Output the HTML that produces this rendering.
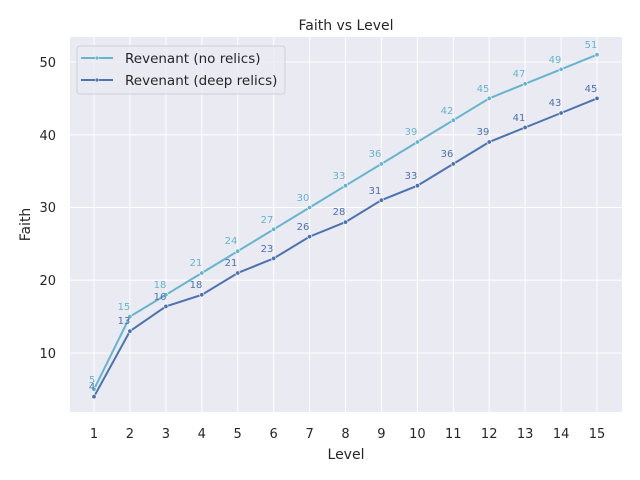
<!DOCTYPE html><html><head><style>body{margin:0;background:#fff}svg{display:block;font-family:"DejaVu Sans","Liberation Sans",sans-serif}</style></head><body>
<svg width="640" height="480" viewBox="0 0 640 480">
<rect x="70" y="37" width="552" height="375" fill="#eaeaf2"/>
<g stroke="#fff" stroke-width="1">
<line x1="70" x2="622" y1="62" y2="62"/><line x1="70" x2="622" y1="134.75" y2="134.75"/><line x1="70" x2="622" y1="207.5" y2="207.5"/><line x1="70" x2="622" y1="280.25" y2="280.25"/><line x1="70" x2="622" y1="353" y2="353"/>
<line x1="94" x2="94" y1="37" y2="412"/><line x1="129.9" x2="129.9" y1="37" y2="412"/><line x1="165.9" x2="165.9" y1="37" y2="412"/><line x1="201.8" x2="201.8" y1="37" y2="412"/><line x1="237.7" x2="237.7" y1="37" y2="412"/><line x1="273.7" x2="273.7" y1="37" y2="412"/><line x1="309.6" x2="309.6" y1="37" y2="412"/><line x1="345.5" x2="345.5" y1="37" y2="412"/><line x1="381.4" x2="381.4" y1="37" y2="412"/><line x1="417.4" x2="417.4" y1="37" y2="412"/><line x1="453.3" x2="453.3" y1="37" y2="412"/><line x1="489.2" x2="489.2" y1="37" y2="412"/><line x1="525.1" x2="525.1" y1="37" y2="412"/><line x1="561.1" x2="561.1" y1="37" y2="412"/><line x1="597" x2="597" y1="37" y2="412"/>
</g>
<polyline fill="none" stroke="#64b5cd" stroke-width="2" points="94,389.4 129.9,316.6 165.9,294.8 201.8,273 237.7,251.2 273.7,229.3 309.6,207.5 345.5,185.7 381.4,163.9 417.4,142 453.3,120.2 489.2,98.4 525.1,83.8 561.1,69.3 597,54.7"/>
<polyline fill="none" stroke="#4c72b0" stroke-width="2" points="94,396.7 129.9,331.2 165.9,306.4 201.8,294.8 237.7,273 273.7,258.4 309.6,236.6 345.5,222.1 381.4,200.2 417.4,185.7 453.3,163.9 489.2,142 525.1,127.5 561.1,113 597,98.4"/>
<g fill="#64b5cd" stroke="#fff" stroke-width="0.6">
<circle cx="94" cy="389.4" r="2.2"/><circle cx="129.9" cy="316.6" r="2.2"/><circle cx="165.9" cy="294.8" r="2.2"/><circle cx="201.8" cy="273" r="2.2"/><circle cx="237.7" cy="251.2" r="2.2"/><circle cx="273.7" cy="229.3" r="2.2"/><circle cx="309.6" cy="207.5" r="2.2"/><circle cx="345.5" cy="185.7" r="2.2"/><circle cx="381.4" cy="163.9" r="2.2"/><circle cx="417.4" cy="142" r="2.2"/><circle cx="453.3" cy="120.2" r="2.2"/><circle cx="489.2" cy="98.4" r="2.2"/><circle cx="525.1" cy="83.8" r="2.2"/><circle cx="561.1" cy="69.3" r="2.2"/><circle cx="597" cy="54.7" r="2.2"/>
</g>
<g fill="#4c72b0" stroke="#fff" stroke-width="0.6">
<circle cx="94" cy="396.7" r="2.2"/><circle cx="129.9" cy="331.2" r="2.2"/><circle cx="165.9" cy="306.4" r="2.2"/><circle cx="201.8" cy="294.8" r="2.2"/><circle cx="237.7" cy="273" r="2.2"/><circle cx="273.7" cy="258.4" r="2.2"/><circle cx="309.6" cy="236.6" r="2.2"/><circle cx="345.5" cy="222.1" r="2.2"/><circle cx="381.4" cy="200.2" r="2.2"/><circle cx="417.4" cy="185.7" r="2.2"/><circle cx="453.3" cy="163.9" r="2.2"/><circle cx="489.2" cy="142" r="2.2"/><circle cx="525.1" cy="127.5" r="2.2"/><circle cx="561.1" cy="113" r="2.2"/><circle cx="597" cy="98.4" r="2.2"/>
</g>
<g fill="#64b5cd" font-size="10" text-anchor="middle">
<text x="92" y="383">5</text><text x="124" y="310">15</text><text x="160" y="288">18</text><text x="196" y="266">21</text><text x="231" y="244">24</text><text x="267" y="223">27</text><text x="303" y="201">30</text><text x="339" y="179">33</text><text x="375" y="157">36</text><text x="411" y="135">39</text><text x="447" y="114">42</text><text x="483" y="92">45</text><text x="519" y="77">47</text><text x="555" y="63">49</text><text x="591" y="48">51</text>
</g>
<g fill="#4c72b0" font-size="10" text-anchor="middle">
<text x="92" y="390">4</text><text x="124" y="324">13</text><text x="160" y="300">16</text><text x="196" y="288">18</text><text x="231" y="266">21</text><text x="267" y="252">23</text><text x="303" y="230">26</text><text x="339" y="215">28</text><text x="375" y="194">31</text><text x="411" y="179">33</text><text x="447" y="157">36</text><text x="483" y="135">39</text><text x="519" y="121">41</text><text x="555" y="106">43</text><text x="591" y="92">45</text>
</g>
<rect x="77" y="46" width="208" height="48" rx="3" fill="#eaeaf2" fill-opacity="0.8" stroke="#d0d0d8"/>
<line x1="81" x2="113" y1="58" y2="58" stroke="#64b5cd" stroke-width="2"/><circle cx="97" cy="58" r="2" fill="#64b5cd" stroke="#fff" stroke-width="0.5"/>
<line x1="81" x2="113" y1="80" y2="80" stroke="#4c72b0" stroke-width="2"/><circle cx="97" cy="80" r="2" fill="#4c72b0" stroke="#fff" stroke-width="0.5"/>
<g fill="#262626" font-size="13.5"><text x="125" y="63">Revenant (no relics)</text><text x="125" y="85">Revenant (deep relics)</text></g>
<g fill="#262626" font-size="13" text-anchor="end">
<text x="56" y="67">50</text><text x="56" y="140">40</text><text x="56" y="212">30</text><text x="56" y="285">20</text><text x="56" y="358">10</text>
</g>
<g fill="#262626" font-size="13" text-anchor="middle">
<text x="94" y="438">1</text><text x="129.9" y="438">2</text><text x="165.9" y="438">3</text><text x="201.8" y="438">4</text><text x="237.7" y="438">5</text><text x="273.7" y="438">6</text><text x="309.6" y="438">7</text><text x="345.5" y="438">8</text><text x="381.4" y="438">9</text><text x="417.4" y="438">10</text><text x="453.3" y="438">11</text><text x="489.2" y="438">12</text><text x="525.1" y="438">13</text><text x="561.1" y="438">14</text><text x="597" y="438">15</text>
<text x="346" y="459" font-size="14">Level</text>
<text x="346" y="30" font-size="14">Faith vs Level</text>
</g>
<text transform="translate(30,224.5) rotate(-90)" text-anchor="middle" fill="#262626" font-size="14">Faith</text>
</svg></body></html>
